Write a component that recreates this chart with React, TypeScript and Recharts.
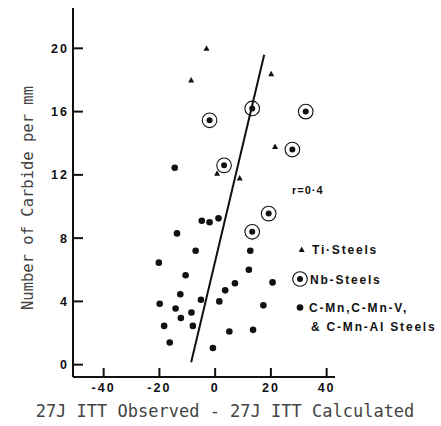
import { ScatterChart, Scatter, XAxis, YAxis, ReferenceLine } from "recharts";

const xTicks = [-40, -20, 0, 20, 40];
const yTicks = [0, 4, 8, 12, 16, 20];

// [ITT difference, carbides per mm]
const tiSteels = [
  [-3.1, 20], [-8.6, 18], [20.1, 18.4], [21.5, 13.8], [0.7, 12.1], [8.8, 11.8],
];
const nbSteels = [
  [-2, 15.45], [13.3, 16.2], [32.5, 16], [27.7, 13.6], [3.2, 12.6], [19.2, 9.55], [13.3, 8.4],
];
const cmnSteels = [
  [-14.5, 12.45], [-4.8, 9.1], [-2, 9.0], [1.2, 9.25], [-13.7, 8.3], [-7, 7.2],
  [-20.2, 6.45], [-10.6, 5.65], [12.6, 7.2], [12.1, 6.0], [7.1, 5.15], [3.6, 4.7],
  [20.6, 5.2], [-12.5, 4.45], [-5.1, 4.1], [1.5, 4.0], [-19.9, 3.85], [-14.2, 3.55],
  [17.3, 3.75], [-8.5, 3.3], [-12.3, 2.95], [-18.3, 2.45], [-8, 2.45], [5.1, 2.1],
  [13.6, 2.2], [-16.3, 1.4], [-0.8, 1.05],
];
const fitLine = [
  { x: -8.6, y: 0.15 },
  { x: 17.6, y: 19.6 },
];

const toPoints = (arr: number[][]) => arr.map(([x, y]) => ({ x, y }));

const Triangle = (p: any) => (
  <polygon
    points={`${p.cx},${p.cy - 3} ${p.cx - 3},${p.cy + 2.5} ${p.cx + 3},${p.cy + 2.5}`}
    fill="#111"
  />
);
const Dot = (p: any) => <circle cx={p.cx} cy={p.cy} r={3.3} fill="#111" />;
const Ringed = (p: any) => (
  <g>
    <circle cx={p.cx} cy={p.cy} r={7.3} fill="none" stroke="#111" strokeWidth={1.1} />
    <circle cx={p.cx} cy={p.cy} r={3} fill="#111" />
  </g>
);

const tickStyle = {
  fontFamily: "'Liberation Sans', Arial, sans-serif",
  fontWeight: 700,
  fontSize: 12.5,
  letterSpacing: 2,
  fill: "#111",
};
const legendStyle = {
  fontFamily: "'Liberation Sans', Arial, sans-serif",
  fontWeight: 700,
  fontSize: 12,
  letterSpacing: 1.8,
  fill: "#111",
};
const monoStyle = {
  fontFamily: "'DejaVu Sans Mono', monospace",
  fill: "#444",
};

export default function App() {
  return (
    <div style={{ position: "absolute", left: 0, top: 0, background: "#fff" }}>
      <ScatterChart
        width={441}
        height={426}
        margin={{ top: 8, right: 106, bottom: 19, left: 13 }}
      >
        <XAxis
          type="number"
          dataKey="x"
          domain={[-51, 43]}
          ticks={xTicks}
          allowDataOverflow
          height={30}
          tickSize={-9}
          tickMargin={15}
          tick={tickStyle}
          axisLine={{ stroke: "#111", strokeWidth: 2 }}
          tickLine={{ stroke: "#111", strokeWidth: 2 }}
        />
        <YAxis
          type="number"
          dataKey="y"
          domain={[-0.78, 22.55]}
          ticks={yTicks}
          allowDataOverflow
          width={60}
          tickSize={-10}
          tickMargin={14}
          tick={tickStyle}
          axisLine={{ stroke: "#111", strokeWidth: 2 }}
          tickLine={{ stroke: "#111", strokeWidth: 2 }}
        />
        <ReferenceLine segment={fitLine} stroke="#111" strokeWidth={2} />
        <Scatter data={toPoints(cmnSteels)} shape={Dot} isAnimationActive={false} />
        <Scatter data={toPoints(nbSteels)} shape={Ringed} isAnimationActive={false} />
        <Scatter data={toPoints(tiSteels)} shape={Triangle} isAnimationActive={false} />

        <text x={292} y={194} style={{ ...legendStyle, fontSize: 11, letterSpacing: 1 }}>
          r=0·4
        </text>
        <polygon points="301.7,246.5 298.7,252 304.7,252" fill="#111" />
        <text x={312} y={254} style={legendStyle}>Ti·Steels</text>
        <circle cx={300} cy={279} r={7.3} fill="none" stroke="#111" strokeWidth={1.1} />
        <circle cx={300} cy={279} r={3} fill="#111" />
        <text x={310} y={283.5} style={legendStyle}>Nb-Steels</text>
        <circle cx={300} cy={307.5} r={3.3} fill="#111" />
        <text x={309} y={312} style={legendStyle}>C-Mn,C-Mn-V,</text>
        <text x={311} y={330.5} style={legendStyle}>&amp; C-Mn-Al Steels</text>

        <text
          x={28}
          y={198}
          transform="rotate(-90 28 198)"
          textAnchor="middle"
          dominantBaseline="central"
          style={{ ...monoStyle, fontSize: 15.5 }}
        >
          Number of Carbide per mm
        </text>
        <text x={225} y={417} textAnchor="middle" style={{ ...monoStyle, fontSize: 17 }}>
          27J ITT Observed - 27J ITT Calculated
        </text>
      </ScatterChart>
    </div>
  );
}
